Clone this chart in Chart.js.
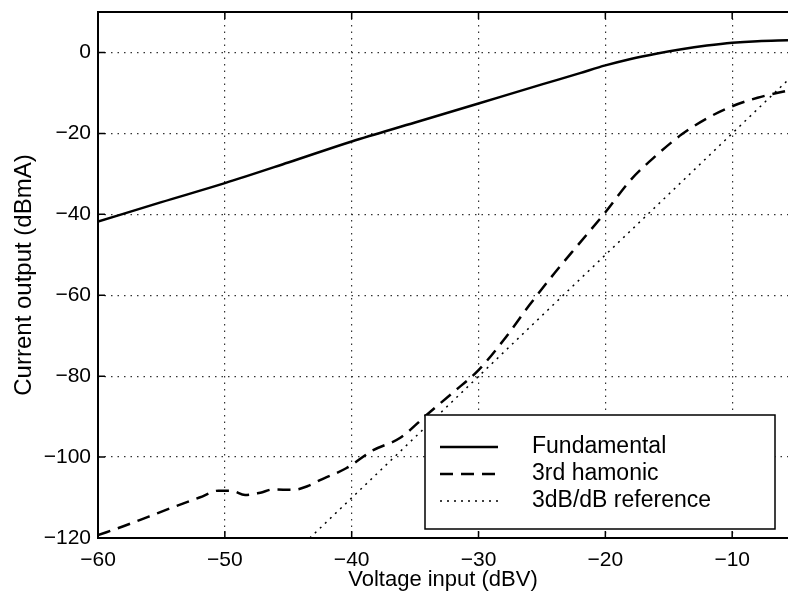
<!DOCTYPE html>
<html>
<head>
<meta charset="utf-8">
<script src="https://cdn.jsdelivr.net/npm/chart.js@4.4.1/dist/chart.umd.min.js"></script>
<style>
  html, body { margin: 0; padding: 0; background: #fff; }
  #wrap { width: 788px; height: 597px; }
</style>
</head>
<body>
<div id="wrap"><canvas id="chart" width="788" height="597"></canvas></div>
<script>
// values (x in dBV, y in dBmA)
const fundX = [-60, -55, -50, -45, -40, -35, -30, -25, -22, -20, -18, -16, -14, -12, -10, -8, -5.6];
const fundY = [-41.8, -37, -32.3, -27.2, -22, -17.3, -12.6, -7.9, -5.1, -3.2, -1.6, -0.3, 0.8, 1.7, 2.4, 2.8, 3.0];

const harmX = [-60, -58, -56, -54, -52, -50.5, -49.5, -48.4, -47.2, -46.2, -44.6, -43.5, -42.5, -40.4, -38.3, -36.2,
  -34.1, -32, -30, -28, -26, -24, -22, -20, -18, -16, -14, -12, -10, -8, -5.6];
const harmY = [-119.3, -117.1, -114.7, -112.3, -110, -108.3, -108.3, -109.4, -108.8, -108, -108.1, -107.2, -105.7, -102.7, -98.3, -95.3,
  -89.6, -84, -78.5, -71, -62.5, -54.5, -47, -39.5, -31.5, -25.5, -20.3, -16.3, -13.3, -11.2, -9.4];

const refX = [-43.3, -5.6];
const refY = [-120, -6.8];

const seriesLabels = ['Fundamental', '3rd hamonic', '3dB/dB reference'];
const xTicks = [-60, -50, -40, -30, -20, -10];
const yTicks = [-120, -100, -80, -60, -40, -20, 0];

function toPoints(xs, ys) {
  return xs.map(function (x, i) { return { x: x, y: ys[i] }; });
}

function minusSign(v) {
  return String(v).replace('-', '\u2212');
}

const FONT = '"Liberation Sans", Arial, Helvetica, sans-serif';
Chart.defaults.font.family = FONT;
Chart.defaults.color = '#000';

// frame + inward tick marks, like the original plot
const framePlugin = {
  id: 'frame',
  afterDraw(chart) {
    const ctx = chart.ctx;
    const a = chart.chartArea;
    const xs = chart.scales.x;
    const ys = chart.scales.y;
    ctx.save();
    ctx.strokeStyle = '#000';
    ctx.lineWidth = 2;
    ctx.beginPath();
    ctx.moveTo(a.right, a.top);
    ctx.lineTo(a.left, a.top);
    ctx.lineTo(a.left, a.bottom);
    ctx.lineTo(a.right, a.bottom);
    ctx.stroke();

    ctx.lineWidth = 1.5;
    ctx.beginPath();
    xTicks.forEach(function (v) {
      const px = xs.getPixelForValue(v);
      ctx.moveTo(px, a.bottom);
      ctx.lineTo(px, a.bottom - 7);
      ctx.moveTo(px, a.top);
      ctx.lineTo(px, a.top + 7);
    });
    yTicks.forEach(function (v) {
      const py = ys.getPixelForValue(v);
      ctx.moveTo(a.left, py);
      ctx.lineTo(a.left + 7, py);
    });
    ctx.stroke();
    ctx.restore();
  }
};

// boxed legend inside the plot, bottom right
const boxLegend = {
  id: 'boxLegend',
  afterDatasetsDraw(chart) {
    const ctx = chart.ctx;
    const box = { left: 425, top: 415, right: 775, bottom: 529 };
    ctx.save();
    ctx.fillStyle = '#fff';
    ctx.fillRect(box.left, box.top, box.right - box.left, box.bottom - box.top);
    ctx.strokeStyle = '#000';
    ctx.lineWidth = 1.5;
    ctx.strokeRect(box.left, box.top, box.right - box.left, box.bottom - box.top);

    const rows = [447, 474, 501];
    ctx.font = '23px ' + FONT;
    ctx.textBaseline = 'middle';
    ctx.fillStyle = '#000';
    chart.data.datasets.forEach(function (ds, i) {
      ctx.beginPath();
      ctx.setLineDash(ds.borderDash || []);
      ctx.lineWidth = ds.borderWidth;
      ctx.moveTo(440, rows[i]);
      ctx.lineTo(498, rows[i]);
      ctx.stroke();
      ctx.setLineDash([]);
      ctx.fillText(ds.label, 532, rows[i]);
    });
    ctx.restore();
  }
};

const data = {
  datasets: [
    {
      label: seriesLabels[0],
      data: toPoints(fundX, fundY),
      borderColor: '#000',
      borderWidth: 2.5,
      borderDash: [],
      cubicInterpolationMode: 'monotone',
    },
    {
      label: seriesLabels[1],
      data: toPoints(harmX, harmY),
      borderColor: '#000',
      borderWidth: 2.5,
      borderDash: [13, 8],
      cubicInterpolationMode: 'monotone',
    },
    {
      label: seriesLabels[2],
      data: toPoints(refX, refY),
      borderColor: '#000',
      borderWidth: 1.5,
      borderDash: [2, 5],
    },
  ],
};

const config = {
  type: 'line',
  data: data,
  options: {
    responsive: false,
    animation: false,
    events: [],
    layout: { padding: { top: 12, right: 0, left: 0, bottom: 0 } },
    elements: { point: { radius: 0 } },
    plugins: {
      legend: { display: false },
      tooltip: { enabled: false },
    },
    scales: {
      x: {
        type: 'linear',
        min: -60,
        max: -5.6,
        afterBuildTicks(scale) {
          scale.ticks = xTicks.map(function (v) { return { value: v }; });
        },
        afterFit(scale) {
          scale.height = 59;
          scale.paddingLeft = 0;
          scale.paddingRight = 0;
        },
        ticks: {
          font: { size: 21 },
          padding: 10,
          maxRotation: 0,
          callback: function (v) { return minusSign(v); },
        },
        grid: { color: '#333', lineWidth: 1.2, drawTicks: false },
        border: { display: false, dash: [1.5, 5] },
        title: {
          display: true,
          text: 'Voltage input (dBV)',
          font: { size: 22 },
          padding: { top: 0, bottom: 4 },
        },
      },
      y: {
        type: 'linear',
        min: -120,
        max: 10,
        afterBuildTicks(scale) {
          scale.ticks = yTicks.map(function (v) { return { value: v }; });
        },
        afterFit(scale) {
          scale.width = 98;
          scale.paddingTop = 0;
          scale.paddingBottom = 0;
        },
        ticks: {
          font: { size: 21 },
          padding: 7,
          callback: function (v) { return minusSign(v); },
        },
        grid: { color: '#333', lineWidth: 1.2, drawTicks: false },
        border: { display: false, dash: [1.5, 5] },
        title: {
          display: true,
          text: 'Current output (dBmA)',
          font: { size: 24 },
          padding: { top: 10, bottom: 0 },
        },
      },
    },
  },
  plugins: [framePlugin, boxLegend],
};

const chart = new Chart(document.getElementById('chart'), config);
</script>
</body>
</html>
